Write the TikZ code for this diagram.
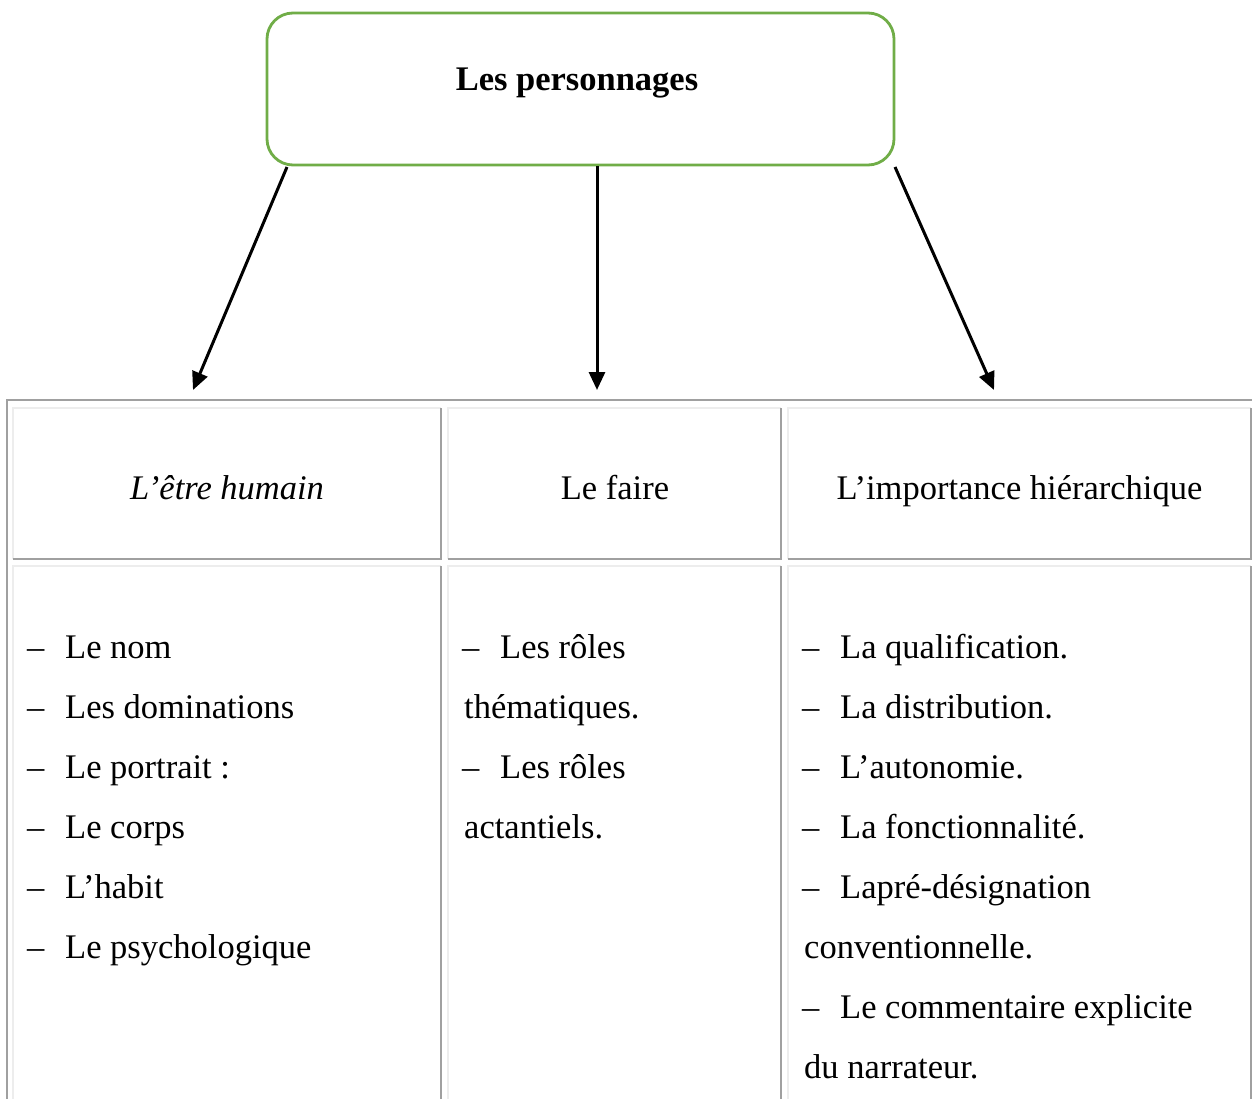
\documentclass[tikz,border=0pt]{standalone}
\usepackage{fontspec}
\setmainfont{Liberation Serif}
\usetikzlibrary{arrows.meta}
\definecolor{boxgreen}{HTML}{70AD47}
\definecolor{darkrule}{HTML}{A0A0A0}
\definecolor{lightrule}{HTML}{EDEDED}
\newcommand\mycell[4]{%
  \draw[lightrule, line width=2pt] (#1,#4) -- (#1,#2) -- (#3,#2);
  \draw[darkrule, line width=2pt] (#3,#2) -- (#3,#4) -- (#1,#4);
}
\begin{document}
\begin{tikzpicture}[x=1pt,y=-1pt,
  txt/.style={font=\fontsize{34.5}{41}\selectfont, inner sep=0pt, anchor=base west},
  head/.style={font=\fontsize{34.5}{41}\selectfont, inner sep=0pt, anchor=base},
  titlebox/.style={draw=boxgreen, line width=2.8pt, rounded corners=26pt, minimum width=627pt, minimum height=152pt, inner sep=0pt},
  arr/.style={line width=3pt, -{Triangle[length=18pt,width=16pt]}}]
\useasboundingbox (0,0) rectangle (1252,1099);
\fill[white] (0,0) rectangle (1252,1099);

% title box
\node[titlebox] (title) at (580.5,89) {};
\node[head, font=\fontsize{34.5}{41}\selectfont\bfseries] (titletext) at (577,91) {Les personnages};

% table outer border
\draw[darkrule, line width=2pt] (7,1110) -- (7,400) -- (1262,400);

% cells
\mycell{13}{408}{441}{559}
\mycell{448}{408}{781}{559}
\mycell{788}{408}{1251}{559}
\mycell{13}{566}{441}{1112}
\mycell{448}{566}{781}{1112}
\mycell{788}{566}{1251}{1112}

% headers
\node[head, font=\fontsize{34.5}{41}\selectfont\itshape] (h1) at (227,499) {L’être humain};
\node[head] (h2) at (615,499) {Le faire};
\node[head] (h3) at (1019.5,499) {L’importance hiérarchique};

% arrows
\coordinate (s1) at (287,167);
\coordinate (s2) at (597,166);
\coordinate (s3) at (895,167);
\coordinate (e1) at (193,390);
\coordinate (e2) at (597,390);
\coordinate (e3) at (994,390);
\draw[arr] (s1) -- (e1);
\draw[arr] (s2) -- (e2);
\draw[arr] (s3) -- (e3);

% column 1
\node[txt] (d11) at (27,658) {–};  \node[txt] (t11) at (65,658) {Le nom};
\node[txt] (d12) at (27,718) {–};  \node[txt] (t12) at (65,718) {Les dominations};
\node[txt] (d13) at (27,778) {–};  \node[txt] (t13) at (65,778) {Le portrait :};
\node[txt] (d14) at (27,838) {–};  \node[txt] (t14) at (65,838) {Le corps};
\node[txt] (d15) at (27,898) {–};  \node[txt] (t15) at (65,898) {L’habit};
\node[txt] (d16) at (27,958) {–};  \node[txt] (t16) at (65,958) {Le psychologique};

% column 2
\node[txt] (d21) at (462,658) {–};  \node[txt] (t21) at (500,658) {Les rôles};
\node[txt] (t22) at (464,718) {thématiques.};
\node[txt] (d23) at (462,778) {–};  \node[txt] (t23) at (500,778) {Les rôles};
\node[txt] (t24) at (464,838) {actantiels.};

% column 3
\node[txt] (d31) at (802,658) {–};  \node[txt] (t31) at (840,658) {La qualification.};
\node[txt] (d32) at (802,718) {–};  \node[txt] (t32) at (840,718) {La distribution.};
\node[txt] (d33) at (802,778) {–};  \node[txt] (t33) at (840,778) {L’autonomie.};
\node[txt] (d34) at (802,838) {–};  \node[txt] (t34) at (840,838) {La fonctionnalité.};
\node[txt] (d35) at (802,898) {–};  \node[txt] (t35) at (840,898) {Lapré-désignation};
\node[txt] (t36) at (804,958) {conventionnelle.};
\node[txt] (d37) at (802,1018) {–}; \node[txt] (t37) at (840,1018) {Le commentaire explicite};
\node[txt] (t38) at (804,1078) {du narrateur.};
\end{tikzpicture}
\end{document}
